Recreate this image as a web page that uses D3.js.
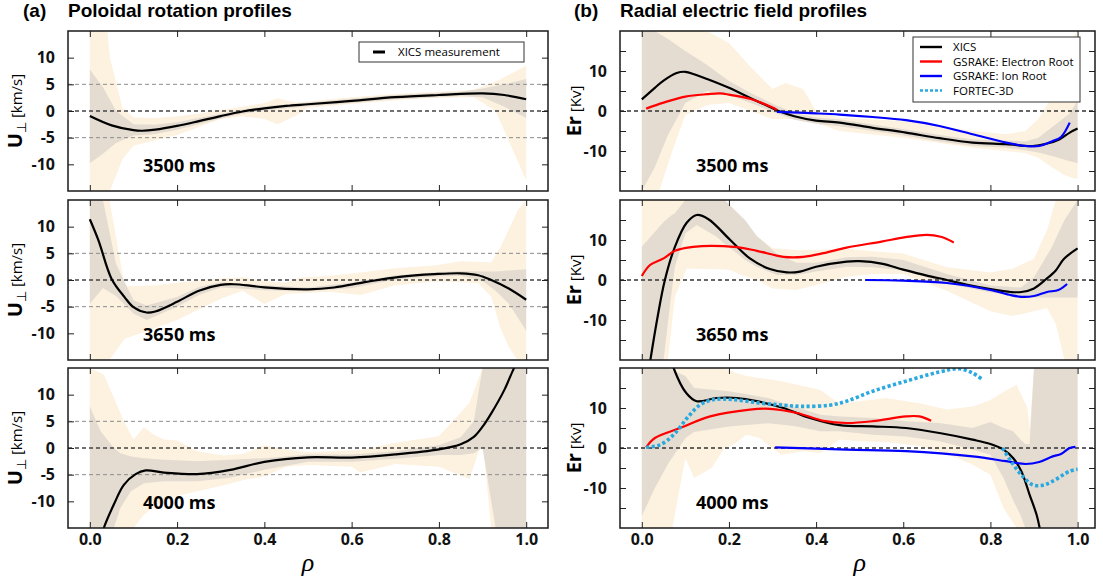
<!DOCTYPE html>
<html>
<head>
<meta charset="utf-8">
<script src="https://cdn.jsdelivr.net/npm/d3@7"></script>
<style>
  body { margin: 0; background: #fff; }
  svg text { font-family: "Open Sans", "Liberation Sans", sans-serif; }
</style>
</head>
<body>
<svg id="chart" width="1103" height="583"></svg>
<script>
// ---- data: [rho, value] or [rho, low, high] ----
const times = ['3500 ms', '3650 ms', '4000 ms'];
const rhoTicks = [0, 0.2, 0.4, 0.6, 0.8, 1.0];
const uTicks = [-10, -5, 0, 5, 10];
const erTicks = [-15, -10, -5, 0, 5, 10, 15];
const erTickLabels = [-10, 0, 10];
const legendA = ['XICS measurement'];
const legendB = ['XICS', 'GSRAKE: Electron Root', 'GSRAKE: Ion Root', 'FORTEC-3D'];

// (a) poloidal rotation U_perp [km/s]
const uXics3500 = [[0,-0.95],[0.05,-2.7],[0.1,-3.6],[0.12,-3.7],[0.15,-3.5],[0.2,-2.8],[0.25,-1.9],[0.3,-0.95],[0.35,-0.1],[0.4,0.5],[0.45,0.95],[0.5,1.27],[0.6,1.9],[0.7,2.6],[0.8,3.0],[0.9,3.3],[0.95,3.0],[1.0,2.2]];
const uInner3500 = [[0,-9.8,7.8],[0.03,-8,4.5],[0.06,-6,0],[0.1,-4.6,-2.5],[0.15,-4.3,-2.6],[0.2,-3.5,-2.1],[0.25,-2.5,-1.3],[0.3,-1.4,-0.5],[0.35,-0.5,0.3],[0.4,0.1,0.9],[0.5,0.9,1.6],[0.6,1.5,2.3],[0.7,2.2,3.0],[0.8,2.6,3.4],[0.85,2.8,3.6],[0.9,2.6,4.2],[0.95,0.8,5],[1.0,-1.3,6]];
const uOuter3500 = [[0,-15,15],[0.04,-15,15],[0.046,-15,10],[0.075,-9,0.5],[0.1,-6.5,-1.2],[0.15,-5.5,-1.3],[0.2,-4.5,-1],[0.25,-3,-0.5],[0.3,-1.5,0.2],[0.35,-1,0.8],[0.4,-1.5,1.5],[0.43,-2.5,2.4],[0.47,-1,1.6],[0.5,0.6,1.8],[0.6,1.3,2.6],[0.7,2.0,3.2],[0.8,2.5,3.6],[0.88,2.6,4.0],[0.93,0,5.5],[1.0,-13,8.5]];

const uXics3650 = [[0,11.4],[0.02,7.4],[0.05,0.2],[0.08,-3.25],[0.1,-5.1],[0.13,-6.1],[0.15,-5.9],[0.2,-4.1],[0.25,-2],[0.3,-0.9],[0.33,-0.8],[0.37,-1.1],[0.4,-1.4],[0.5,-1.75],[0.56,-1.4],[0.63,-0.4],[0.71,0.6],[0.79,1.1],[0.85,1.25],[0.89,0.9],[0.92,0],[0.96,-1.6],[1.0,-3.7]];
const uInner3650 = [[0,-4.5,15],[0.03,-1.5,15],[0.06,-3,3],[0.1,-6.3,-3.8],[0.13,-7.5,-4.8],[0.2,-5,-3.2],[0.25,-2.8,-1.3],[0.3,-1.4,-0.4],[0.4,-1.9,-1],[0.5,-2.1,-1.4],[0.6,-1.5,-0.5],[0.7,0.1,0.9],[0.8,0.7,1.5],[0.85,0.8,1.7],[0.9,-0.2,1.6],[0.93,-2,1.6],[0.96,-4.4,1.8],[1.0,-9.5,2]];
const uOuter3650 = [[0,-15,15],[0.045,-15,15],[0.08,-11,-1.2],[0.15,-9,-1],[0.2,-7.5,-0.5],[0.3,-3.5,0.3],[0.35,-2,0.5],[0.4,-4.5,-0.2],[0.45,-2.6,-0.5],[0.48,-2.5,0.4],[0.55,-2.2,0.8],[0.62,-2.8,1.4],[0.7,-1,2.2],[0.79,-0.3,2.7],[0.85,-0.4,3.5],[0.89,-0.6,3.4],[0.92,-3.1,3.3],[0.94,-8.8,6],[0.96,-12.5,9.4],[0.98,-15,13],[1.0,-15,15]];

const uXics4000 = [[0.025,-17],[0.032,-15],[0.055,-10.6],[0.078,-6.9],[0.105,-4.9],[0.128,-4.2],[0.17,-4.6],[0.246,-4.9],[0.322,-4.1],[0.4,-2.6],[0.5,-1.75],[0.6,-1.8],[0.7,-1.2],[0.8,-0.25],[0.85,0.7],[0.88,2.1],[0.9,4],[0.92,6.5],[0.95,10.9],[0.97,14.6],[0.985,17]];
const uInner4000 = [[0,-15,7.8],[0.025,-15,3.1],[0.055,-15,0],[0.07,-11.25,-1],[0.094,-8.1,-1.6],[0.124,-6.6,-1.9],[0.17,-6.25,-2.2],[0.246,-6.25,-2.5],[0.322,-5.6,-2.2],[0.4,-4.1,-1.9],[0.5,-2.6,-1.2],[0.6,-2.6,-1.2],[0.7,-2.0,-0.6],[0.8,-1.3,0.5],[0.85,-1.3,2],[0.88,-1,5],[0.9,0,15],[0.93,-15,15],[1.0,-15,15]];
const uOuter4000 = [[0,-15,15],[0.032,-15,13.8],[0.055,-15,9.4],[0.078,-15,5],[0.1,-15,1.6],[0.124,-12.5,3.9],[0.147,-11,2.5],[0.17,-10,1.6],[0.2,-9,1.4],[0.246,-8.1,-0.6],[0.307,-7,-1.4],[0.353,-6,-1.1],[0.4,-5.3,0.5],[0.45,-3.5,-0.3],[0.5,-3.2,-0.8],[0.6,-3.5,-0.4],[0.62,-4.6,-0.4],[0.7,-3,1.0],[0.8,-3.5,2.2],[0.87,-5.8,8.5],[0.9,1.5,15],[0.92,-15,15],[1.0,-15,15]];

// (b) radial electric field Er [kV]
const erXics3500 = [[0,2.9],[0.03,5.8],[0.05,7.6],[0.08,9.5],[0.1,9.8],[0.12,9.2],[0.15,8],[0.2,5.8],[0.25,3.2],[0.3,0.7],[0.32,-0.25],[0.35,-1.3],[0.4,-2.4],[0.454,-2.9],[0.53,-4.2],[0.606,-5.4],[0.683,-6.8],[0.759,-7.9],[0.836,-8.3],[0.897,-8.75],[0.928,-8.2],[0.958,-7.1],[0.982,-5.4],[1.0,-4.4]];
const erElec3500 = [[0.01,0.6],[0.05,2.1],[0.1,3.6],[0.15,4.2],[0.18,4.4],[0.2,4.1],[0.25,3.0],[0.3,0.85],[0.31,0.25]];
const erIon3500 = [[0.31,-0.2],[0.4,-0.6],[0.454,-0.9],[0.53,-1.5],[0.606,-2.3],[0.683,-3.75],[0.759,-5.8],[0.836,-7.9],[0.881,-8.75],[0.912,-8.75],[0.943,-7.5],[0.962,-6.5],[0.982,-2.9]];
const erInner3500 = [[0,-20,20],[0.03,-14,20],[0.06,-6,18],[0.1,2,15],[0.15,5,11.5],[0.2,4,7.5],[0.25,2,4.5],[0.3,-0.2,1.8],[0.35,-2.2,-0.5],[0.4,-3.2,-1.6],[0.454,-3.8,-2.1],[0.53,-5,-3.4],[0.606,-6.2,-4.6],[0.683,-7.6,-6],[0.759,-8.7,-7.1],[0.836,-9.2,-7.4],[0.88,-9.8,-7.6],[0.91,-10.4,-6.7],[0.95,-11.5,-3.3],[0.98,-12.5,-0.8],[1.0,-13,2.5]];
const erOuter3500 = [[0,-20,20],[0.04,-20,20],[0.07,-10,20],[0.1,-1,20],[0.15,1.5,20],[0.2,2,17],[0.25,0,11],[0.3,-2,5.5],[0.33,-2,7],[0.37,-2,5.5],[0.4,-3,0],[0.454,-5,-1.7],[0.6,-6.7,-2.5],[0.76,-9.2,-5],[0.836,-10,-5.8],[0.88,-10.5,-5],[0.91,-11.7,-2],[0.94,-14,3.3],[0.97,-16,11.7],[0.982,-16.5,17.5],[1.0,-17,20]];

const erXics3650 = [[0.019,-20.5],[0.035,-10],[0.053,0],[0.076,8.3],[0.103,14.3],[0.126,16.25],[0.153,15.2],[0.203,10],[0.248,5.4],[0.294,2.75],[0.333,1.9],[0.363,2.1],[0.4,3.3],[0.47,4.6],[0.5,4.7],[0.55,4.1],[0.6,2.6],[0.654,1.1],[0.7,0],[0.75,-1.3],[0.8,-2.3],[0.847,-3.0],[0.871,-3.0],[0.9,-2.1],[0.928,0.25],[0.95,2.4],[0.969,5.3],[1.0,7.9]];
const erElec3650 = [[0,1.0],[0.019,3.75],[0.05,5.4],[0.076,7.3],[0.118,8.3],[0.218,8.2],[0.264,7.3],[0.325,5.8],[0.371,5.8],[0.417,6.7],[0.47,8.1],[0.55,9.6],[0.605,10.7],[0.654,11.3],[0.686,10.8],[0.716,9.4]];
const erIon3650 = [[0.513,0],[0.6,-0.15],[0.7,-0.75],[0.8,-2.5],[0.847,-3.8],[0.871,-4.2],[0.9,-4.0],[0.93,-3.0],[0.956,-2.5],[0.976,-1.0]];
const erInner3650 = [[0,-20,8.3],[0.03,-20,12],[0.05,-20,14.5],[0.066,-5,16],[0.076,3.3,16.7],[0.1,11.7,20],[0.126,13.75,20],[0.172,10.8,20],[0.19,9,20],[0.218,6.7,17],[0.237,5,15],[0.264,3.3,11],[0.275,2.8,10],[0.31,1.25,6.5],[0.355,1.25,4.3],[0.4,2.1,4.3],[0.47,3.3,5.7],[0.53,3.2,5.8],[0.6,2.4,5.0],[0.7,-0.85,1.5],[0.8,-3.1,-1.4],[0.87,-4,-1.9],[0.9,-4.4,0.7],[0.94,-4.4,8],[0.97,-4.4,15],[1.0,-4.4,20]];
const erOuter3650 = [[0,-20,20],[0.06,-20,20],[0.076,-4.2,20],[0.103,2.9,20],[0.19,2.6,20],[0.203,2.5,18.5],[0.23,1.2,15],[0.264,0,10.8],[0.3,-2.1,8],[0.355,-2.5,7.5],[0.4,-1.25,7.5],[0.47,0.8,7.8],[0.53,1.5,7.2],[0.6,1.5,6.6],[0.7,-2.7,3.2],[0.8,-7.8,1.9],[0.85,-9,2.8],[0.9,-7.8,5.3],[0.93,-7,12.5],[0.95,-11,20],[0.97,-20,20],[1.0,-20,20]];

const erXics4000 = [[0.068,22],[0.073,20],[0.102,13.75],[0.126,11.7],[0.172,12.5],[0.218,12.5],[0.264,11.7],[0.325,10],[0.386,7.5],[0.454,5.7],[0.53,5.4],[0.606,5],[0.683,3.75],[0.759,2.1],[0.8,1.0],[0.83,-0.4],[0.852,-2.5],[0.871,-5.8],[0.89,-11.7],[0.906,-16.7],[0.913,-20],[0.916,-22]];
const erElec4000 = [[0.01,0.17],[0.03,2.5],[0.088,5],[0.157,7.9],[0.248,9.6],[0.294,9.8],[0.356,8.75],[0.417,6.8],[0.47,6.25],[0.53,6.7],[0.606,7.9],[0.637,7.9],[0.664,6.8]];
const erIon4000 = [[0.306,0.17],[0.47,-0.4],[0.606,-0.8],[0.759,-2.1],[0.836,-3.3],[0.881,-4],[0.912,-3.5],[0.943,-2.1],[0.962,-1.5],[0.982,0],[0.995,0.3]];
const erFortec4000 = [[0.01,0.17],[0.042,0.8],[0.073,3.3],[0.104,7.5],[0.134,10.8],[0.165,12.1],[0.21,12.1],[0.27,11.25],[0.325,10.7],[0.37,10.4],[0.431,10.7],[0.47,11.7],[0.53,14.2],[0.606,16.7],[0.683,19],[0.729,19.8],[0.759,18.75],[0.782,17.1],null,[0.828,0],[0.847,-3.3],[0.871,-6.7],[0.897,-9.2],[0.92,-9.3],[0.943,-8.3],[0.982,-5.8],[1.0,-5.3]];
const erInner4000 = [[0,-17,20],[0.03,-10,20],[0.06,-4,20],[0.1,2.5,18],[0.12,4,15],[0.2,5.4,14.2],[0.29,6.2,12.5],[0.35,5.5,10.4],[0.41,4.2,8.3],[0.454,4.2,7.9],[0.53,3.3,7.5],[0.606,2.9,6.7],[0.683,1.7,6.25],[0.759,-0.4,5],[0.8,-1.7,6.5],[0.83,-7.5,5],[0.852,-13,4.2],[0.87,-17,2],[0.88,-20,1],[0.89,-20,1],[0.9,-20,20],[1.0,-20,20]];
const erOuter4000 = [[0,-20,20],[0.07,-20,20],[0.1,-2.5,20],[0.12,-7.5,20],[0.16,-5,20],[0.19,0,20],[0.21,0.8,19],[0.24,3.3,18],[0.27,2.5,17.5],[0.32,-1.7,16.7],[0.37,-0.8,15.5],[0.41,-1.25,14.5],[0.454,2.1,11],[0.5,1.7,11.7],[0.56,1.5,12.5],[0.637,0.5,11.2],[0.7,-1.5,9.6],[0.76,-4.2,10.4],[0.8,-6.7,12],[0.83,-15,14],[0.86,-20,15.8],[0.885,-20,10],[0.89,-20,4.6],[0.9,-20,20],[1.0,-20,20]];

// ---- layout ----
const svg = d3.select('#chart');
const cream = '#fdf1df';
const taupe = '#e4dcd1';
const fortecColor = '#2aa9e0';
const rowTops = [31, 200, 368];
const rowH = 160;

const xLeft = d3.scaleLinear().domain([-0.05, 1.05]).range([68, 548]);
const xRight = d3.scaleLinear().domain([-0.05, 1.04]).range([620, 1095]);

const panels = [
    { x: xLeft, row: 0, yDom: [-15, 15], outer: uOuter3500, inner: uInner3500,
      lines: [{ data: uXics3500, color: '#000' }] },
    { x: xLeft, row: 1, yDom: [-15, 15], outer: uOuter3650, inner: uInner3650,
      lines: [{ data: uXics3650, color: '#000' }] },
    { x: xLeft, row: 2, yDom: [-15, 15], outer: uOuter4000, inner: uInner4000,
      lines: [{ data: uXics4000, color: '#000' }] },
    { x: xRight, row: 0, yDom: [-20, 20], outer: erOuter3500, inner: erInner3500,
      lines: [{ data: erXics3500, color: '#000' }, { data: erElec3500, color: '#f00' }, { data: erIon3500, color: '#00f' }] },
    { x: xRight, row: 1, yDom: [-20, 20], outer: erOuter3650, inner: erInner3650,
      lines: [{ data: erXics3650, color: '#000' }, { data: erElec3650, color: '#f00' }, { data: erIon3650, color: '#00f' }] },
    { x: xRight, row: 2, yDom: [-20, 20], outer: erOuter4000, inner: erInner4000,
      lines: [{ data: erXics4000, color: '#000' }, { data: erElec4000, color: '#f00' }, { data: erIon4000, color: '#00f' },
              { data: erFortec4000, color: fortecColor, dotted: true }] }
];

panels.forEach((p, i) => {
    const isLeft = p.x === xLeft;
    const top = rowTops[p.row];
    const [x0, x1] = p.x.range();
    const y = d3.scaleLinear().domain(p.yDom).range([top + rowH, top]);

    svg.append('clipPath').attr('id', 'clip' + i)
        .append('rect')
        .attr('x', x0).attr('y', top)
        .attr('width', x1 - x0).attr('height', rowH);

    const g = svg.append('g').attr('clip-path', 'url(#clip' + i + ')');

    // uncertainty bands
    const area = d3.area()
        .x(d => p.x(d[0]))
        .y0(d => y(d[1]))
        .y1(d => y(d[2]));
    g.append('path').datum(p.outer).attr('d', area).attr('fill', cream);
    g.append('path').datum(p.inner).attr('d', area).attr('fill', taupe);

    // dashed reference lines
    const refs = isLeft ? [[5, '#8c8c8c', 1], [-5, '#8c8c8c', 1], [0, '#444', 1.3]] : [[0, '#333', 1.3]];
    refs.forEach(r => {
        g.append('line')
            .attr('x1', x0).attr('x2', x1)
            .attr('y1', y(r[0])).attr('y2', y(r[0]))
            .attr('stroke', r[1])
            .attr('stroke-width', r[2])
            .attr('stroke-dasharray', '4,3');
    });

    // profiles
    const line = d3.line()
        .defined(d => d !== null)
        .x(d => p.x(d[0]))
        .y(d => y(d[1]))
        .curve(d3.curveCatmullRom.alpha(0.5));
    p.lines.forEach(s => {
        g.append('path').datum(s.data)
            .attr('d', line)
            .attr('fill', 'none')
            .attr('stroke', s.color)
            .attr('stroke-width', s.dotted ? 3.6 : 2.2)
            .attr('stroke-dasharray', s.dotted ? '3.2,2.4' : null);
    });

    // axes, ticks pointing inward
    const yTicks = isLeft ? uTicks : erTicks;
    const yLabels = isLeft ? uTicks : erTickLabels;
    const axes = [
        [d3.axisLeft(y).tickValues(yTicks).tickFormat(d => yLabels.includes(d) ? d : ''), x0, 0],
        [d3.axisRight(y).tickValues(yTicks).tickFormat(''), x1, 0],
        [d3.axisTop(p.x).tickValues(rhoTicks).tickFormat(''), 0, top],
        [d3.axisBottom(p.x).tickValues(rhoTicks).tickFormat(p.row === 2 ? d3.format('.1f') : ''), 0, top + rowH]
    ];
    axes.forEach(a => {
        const ax = svg.append('g')
            .attr('transform', 'translate(' + a[1] + ',' + a[2] + ')')
            .call(a[0].tickSize(-6).tickPadding(a[1] === x0 ? 13 : 6));
        ax.select('.domain').remove();
        ax.selectAll('line').attr('stroke', '#222');
        ax.selectAll('text')
            .attr('fill', '#111')
            .style('font-size', '16px')
            .style('font-weight', 'bold');
    });

    // frame
    svg.append('rect')
        .attr('x', x0).attr('y', top)
        .attr('width', x1 - x0).attr('height', rowH)
        .attr('fill', 'none')
        .attr('stroke', '#1a1a1a')
        .attr('stroke-width', 1.5);

    // time label
    svg.append('text')
        .attr('x', isLeft ? 143 : 696)
        .attr('y', top + 141)
        .style('font-size', '18px')
        .style('font-weight', 'bold')
        .text(times[p.row]);

    // y axis label
    const lab = svg.append('text')
        .attr('transform', 'translate(' + (isLeft ? 22 : 581) + ',' + (top + rowH / 2) + ') rotate(-90)')
        .attr('text-anchor', 'middle');
    if (isLeft) {
        lab.append('tspan').style('font-size', '20px').style('font-weight', 'bold').text('U');
        lab.append('tspan').attr('dy', 4).style('font-size', '13px').text('\u22a5');
        lab.append('tspan').attr('dy', -4).style('font-size', '15px').text(' [km/s]');
    } else {
        lab.append('tspan').style('font-size', '20px').style('font-weight', 'bold').text('Er');
        lab.append('tspan').style('font-size', '15px').text(' [Kv]');
    }
});

// titles
const titles = [[23, '(a)', 68, 'Poloidal rotation profiles'], [574, '(b)', 620, 'Radial electric field profiles']];
titles.forEach(t => {
    svg.append('text').attr('x', t[0]).attr('y', 17)
        .style('font-family', '"Liberation Sans", Arial, sans-serif')
        .style('font-size', '19px').style('font-weight', 'bold').text(t[1]);
    svg.append('text').attr('x', t[2]).attr('y', 17)
        .style('font-family', '"Liberation Sans", Arial, sans-serif')
        .style('font-size', '19px').style('font-weight', 'bold').text(t[3]);
});

// rho labels
[xLeft, xRight].forEach(x => {
    svg.append('text')
        .attr('x', (x(0) + x(1)) / 2)
        .attr('y', 571)
        .attr('text-anchor', 'middle')
        .style('font-family', '"Liberation Serif", serif')
        .style('font-style', 'italic')
        .style('font-size', '26px')
        .text('\u03c1');
});

// legend (a)
svg.append('rect')
    .attr('x', 359).attr('y', 42).attr('width', 165).attr('height', 20)
    .attr('fill', '#fff').attr('stroke', '#333').attr('stroke-width', 1);
svg.append('line')
    .attr('x1', 373).attr('x2', 385).attr('y1', 52).attr('y2', 52)
    .attr('stroke', '#000').attr('stroke-width', 3);
svg.append('text')
    .attr('x', 398).attr('y', 56)
    .style('font-size', '11.5px')
    .text(legendA[0]);

// legend (b)
const legendColors = ['#000', '#f00', '#00f', fortecColor];
svg.append('rect')
    .attr('x', 913).attr('y', 37).attr('width', 167).attr('height', 65)
    .attr('fill', '#fff').attr('stroke', '#333').attr('stroke-width', 1);
legendB.forEach((name, i) => {
    const ly = 47 + i * 14.5;
    svg.append('line')
        .attr('x1', 920).attr('x2', 942).attr('y1', ly).attr('y2', ly)
        .attr('stroke', legendColors[i])
        .attr('stroke-width', 2.4)
        .attr('stroke-dasharray', i === 3 ? '3,2' : null);
    svg.append('text')
        .attr('x', 953).attr('y', ly + 4)
        .style('font-size', '11.5px')
        .text(name);
});
</script>
</body>
</html>
